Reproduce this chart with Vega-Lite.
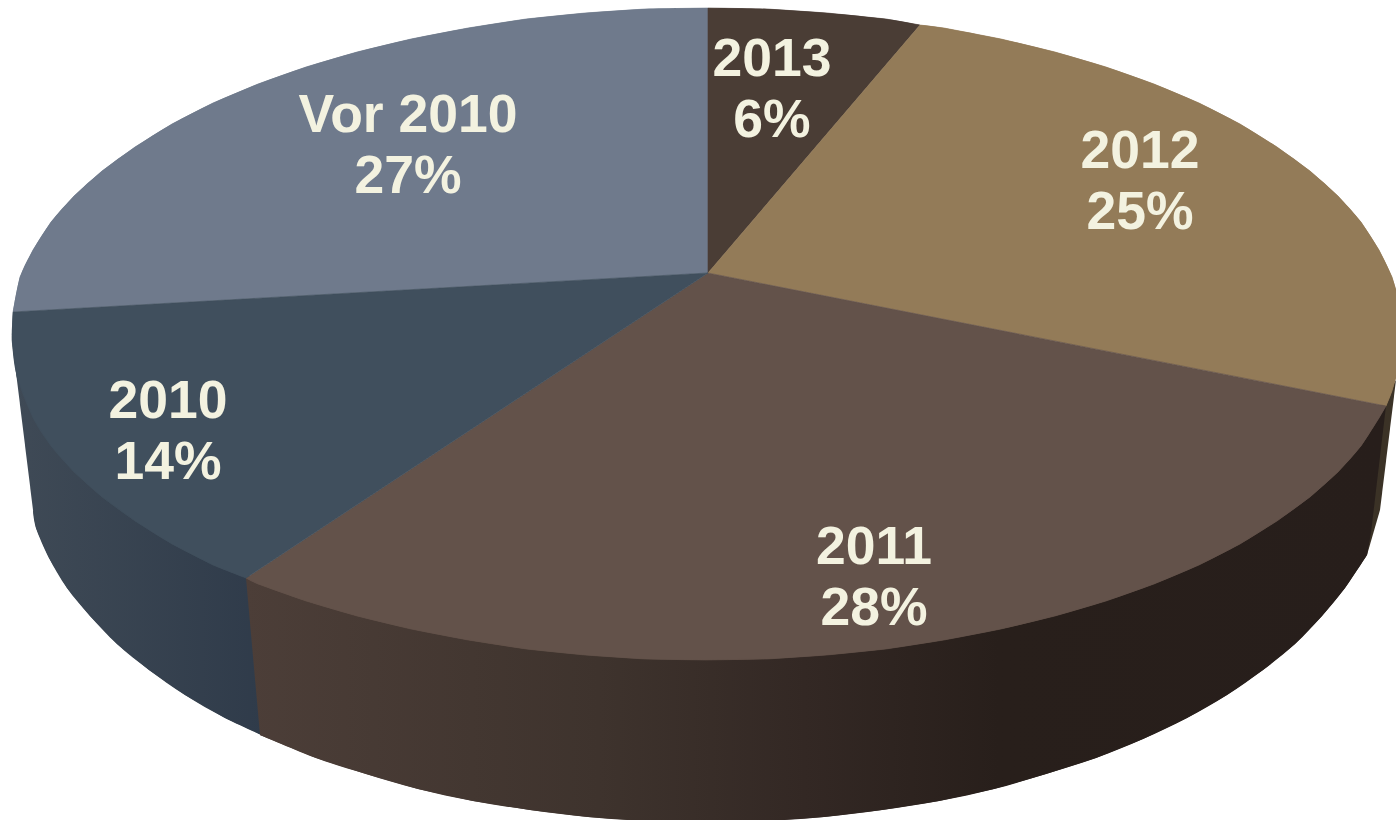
{"$schema":"https://vega.github.io/schema/vega-lite/v6.json","autosize":{"type":"fit","contains":"padding"},"width":1396,"height":820,"padding":0,"background":"white","view":{"stroke":null},
"config":{"view":{"stroke":null}},
"datasets":{"outline":[
{"slice":"2010","face":"side","n":1,"x":252,"y":578},{"slice":"2010","face":"side","n":2,"x":12,"y":340},{"slice":"2010","face":"side","n":3,"x":33,"y":510},{"slice":"2010","face":"side","n":4,"x":36,"y":528},{"slice":"2010","face":"side","n":5,"x":49,"y":558},{"slice":"2010","face":"side","n":6,"x":67,"y":588},{"slice":"2010","face":"side","n":7,"x":90,"y":616},{"slice":"2010","face":"side","n":8,"x":117,"y":644},{"slice":"2010","face":"side","n":9,"x":149,"y":670},{"slice":"2010","face":"side","n":10,"x":185,"y":695},{"slice":"2010","face":"side","n":11,"x":225,"y":718},{"slice":"2010","face":"side","n":12,"x":266,"y":737},
{"slice":"2011","face":"side","n":1,"x":1386,"y":406},{"slice":"2011","face":"side","n":2,"x":246,"y":578},{"slice":"2011","face":"side","n":3,"x":260,"y":735},{"slice":"2011","face":"side","n":4,"x":316,"y":758},{"slice":"2011","face":"side","n":5,"x":366,"y":774},{"slice":"2011","face":"side","n":6,"x":418,"y":789},{"slice":"2011","face":"side","n":7,"x":473,"y":801},{"slice":"2011","face":"side","n":8,"x":530,"y":810},{"slice":"2011","face":"side","n":9,"x":588,"y":817},{"slice":"2011","face":"side","n":10,"x":647,"y":821},{"slice":"2011","face":"side","n":11,"x":706,"y":822},{"slice":"2011","face":"side","n":12,"x":765,"y":821},{"slice":"2011","face":"side","n":13,"x":824,"y":817},{"slice":"2011","face":"side","n":14,"x":882,"y":810},{"slice":"2011","face":"side","n":15,"x":939,"y":801},{"slice":"2011","face":"side","n":16,"x":994,"y":789},{"slice":"2011","face":"side","n":17,"x":1046,"y":774},{"slice":"2011","face":"side","n":18,"x":1096,"y":758},{"slice":"2011","face":"side","n":19,"x":1143,"y":739},{"slice":"2011","face":"side","n":20,"x":1187,"y":718},{"slice":"2011","face":"side","n":21,"x":1227,"y":695},{"slice":"2011","face":"side","n":22,"x":1263,"y":670},{"slice":"2011","face":"side","n":23,"x":1295,"y":644},{"slice":"2011","face":"side","n":24,"x":1322,"y":616},{"slice":"2011","face":"side","n":25,"x":1345,"y":588},{"slice":"2011","face":"side","n":26,"x":1367,"y":555},{"slice":"2011","face":"side","n":27,"x":1371,"y":533},
{"slice":"2012","face":"side","n":1,"x":1380,"y":406},{"slice":"2012","face":"side","n":2,"x":1396,"y":380},{"slice":"2012","face":"side","n":3,"x":1380,"y":510},{"slice":"2012","face":"side","n":4,"x":1367,"y":555},{"slice":"2012","face":"side","n":5,"x":1365,"y":533},
{"slice":"Vor 2010","face":"top","n":0,"x":708,"y":273},{"slice":"Vor 2010","face":"top","n":1,"x":13,"y":312},{"slice":"Vor 2010","face":"top","n":2,"x":20,"y":277},{"slice":"Vor 2010","face":"top","n":3,"x":33,"y":250},{"slice":"Vor 2010","face":"top","n":4,"x":51,"y":222},{"slice":"Vor 2010","face":"top","n":5,"x":74,"y":196},{"slice":"Vor 2010","face":"top","n":6,"x":102,"y":171},{"slice":"Vor 2010","face":"top","n":7,"x":135,"y":147},{"slice":"Vor 2010","face":"top","n":8,"x":172,"y":124},{"slice":"Vor 2010","face":"top","n":9,"x":213,"y":103},{"slice":"Vor 2010","face":"top","n":10,"x":258,"y":84},{"slice":"Vor 2010","face":"top","n":11,"x":306,"y":67},{"slice":"Vor 2010","face":"top","n":12,"x":357,"y":52},{"slice":"Vor 2010","face":"top","n":13,"x":411,"y":39},{"slice":"Vor 2010","face":"top","n":14,"x":468,"y":28},{"slice":"Vor 2010","face":"top","n":15,"x":526,"y":19},{"slice":"Vor 2010","face":"top","n":16,"x":585,"y":13},{"slice":"Vor 2010","face":"top","n":17,"x":645,"y":9},{"slice":"Vor 2010","face":"top","n":18,"x":708,"y":8},
{"slice":"2013","face":"top","n":0,"x":708,"y":273},{"slice":"2013","face":"top","n":1,"x":708,"y":8},{"slice":"2013","face":"top","n":2,"x":767,"y":9},{"slice":"2013","face":"top","n":3,"x":827,"y":13},{"slice":"2013","face":"top","n":4,"x":886,"y":19},{"slice":"2013","face":"top","n":5,"x":920,"y":25},
{"slice":"2012","face":"top","n":0,"x":708,"y":273},{"slice":"2012","face":"top","n":1,"x":920,"y":25},{"slice":"2012","face":"top","n":2,"x":944,"y":28},{"slice":"2012","face":"top","n":3,"x":1001,"y":39},{"slice":"2012","face":"top","n":4,"x":1055,"y":52},{"slice":"2012","face":"top","n":5,"x":1106,"y":67},{"slice":"2012","face":"top","n":6,"x":1154,"y":84},{"slice":"2012","face":"top","n":7,"x":1199,"y":103},{"slice":"2012","face":"top","n":8,"x":1240,"y":124},{"slice":"2012","face":"top","n":9,"x":1277,"y":147},{"slice":"2012","face":"top","n":10,"x":1310,"y":171},{"slice":"2012","face":"top","n":11,"x":1338,"y":196},{"slice":"2012","face":"top","n":12,"x":1361,"y":222},{"slice":"2012","face":"top","n":13,"x":1379,"y":250},{"slice":"2012","face":"top","n":14,"x":1392,"y":277},{"slice":"2012","face":"top","n":15,"x":1400,"y":306},{"slice":"2012","face":"top","n":16,"x":1403,"y":334},{"slice":"2012","face":"top","n":17,"x":1400,"y":362},{"slice":"2012","face":"top","n":18,"x":1392,"y":391},{"slice":"2012","face":"top","n":19,"x":1386,"y":406},
{"slice":"2011","face":"top","n":0,"x":708,"y":273},{"slice":"2011","face":"top","n":1,"x":1386,"y":406},{"slice":"2011","face":"top","n":2,"x":1379,"y":418},{"slice":"2011","face":"top","n":3,"x":1361,"y":446},{"slice":"2011","face":"top","n":4,"x":1338,"y":472},{"slice":"2011","face":"top","n":5,"x":1310,"y":497},{"slice":"2011","face":"top","n":6,"x":1277,"y":521},{"slice":"2011","face":"top","n":7,"x":1240,"y":544},{"slice":"2011","face":"top","n":8,"x":1199,"y":565},{"slice":"2011","face":"top","n":9,"x":1154,"y":584},{"slice":"2011","face":"top","n":10,"x":1106,"y":601},{"slice":"2011","face":"top","n":11,"x":1055,"y":616},{"slice":"2011","face":"top","n":12,"x":1001,"y":629},{"slice":"2011","face":"top","n":13,"x":944,"y":640},{"slice":"2011","face":"top","n":14,"x":886,"y":649},{"slice":"2011","face":"top","n":15,"x":827,"y":655},{"slice":"2011","face":"top","n":16,"x":767,"y":659},{"slice":"2011","face":"top","n":17,"x":706,"y":660},{"slice":"2011","face":"top","n":18,"x":645,"y":659},{"slice":"2011","face":"top","n":19,"x":585,"y":655},{"slice":"2011","face":"top","n":20,"x":526,"y":649},{"slice":"2011","face":"top","n":21,"x":468,"y":640},{"slice":"2011","face":"top","n":22,"x":411,"y":629},{"slice":"2011","face":"top","n":23,"x":357,"y":616},{"slice":"2011","face":"top","n":24,"x":306,"y":601},{"slice":"2011","face":"top","n":25,"x":258,"y":584},{"slice":"2011","face":"top","n":26,"x":246,"y":578},
{"slice":"2010","face":"top","n":0,"x":708,"y":273},{"slice":"2010","face":"top","n":1,"x":246,"y":578},{"slice":"2010","face":"top","n":2,"x":213,"y":565},{"slice":"2010","face":"top","n":3,"x":172,"y":544},{"slice":"2010","face":"top","n":4,"x":135,"y":521},{"slice":"2010","face":"top","n":5,"x":102,"y":497},{"slice":"2010","face":"top","n":6,"x":74,"y":472},{"slice":"2010","face":"top","n":7,"x":51,"y":446},{"slice":"2010","face":"top","n":8,"x":33,"y":418},{"slice":"2010","face":"top","n":9,"x":17,"y":377},{"slice":"2010","face":"top","n":10,"x":12,"y":340},{"slice":"2010","face":"top","n":11,"x":13,"y":312}
],
"labels":[
{"slice":"2013","share":6,"label":"2013\n6%","x":772,"y":60},
{"slice":"2012","share":25,"label":"2012\n25%","x":1140,"y":152},
{"slice":"2011","share":28,"label":"2011\n28%","x":874,"y":548},
{"slice":"2010","share":14,"label":"2010\n14%","x":168,"y":402},
{"slice":"Vor 2010","share":27,"label":"Vor 2010\n27%","x":408,"y":116}
]},
"encoding":{"x":{"field":"x","type":"quantitative","scale":{"domain":[0,1396]},"axis":null},"y":{"field":"y","type":"quantitative","scale":{"domain":[820,0]},"axis":null}},
"layer":[
{"data":{"name":"outline"},"transform":[{"filter":"datum.face==='side' && datum.slice==='2010' && datum.n>=3"}],
"mark":{"type":"line","interpolate":"cardinal","clip":true,"strokeWidth":0,"fill":"#38434f"},
"encoding":{"order":{"field":"n"}}},
{"data":{"name":"outline"},"transform":[{"filter":"datum.face==='side' && datum.slice==='2010'"}],
"mark":{"type":"line","interpolate":"linear-closed","clip":true,"strokeWidth":0,"fill":{"gradient":"linear","x1":0,"y1":0,"x2":1,"y2":0,"stops":[{"offset":0,"color":"#3f4a56"},{"offset":1,"color":"#2f3b4a"}]}},
"encoding":{"order":{"field":"n"}}},
{"data":{"name":"outline"},"transform":[{"filter":"datum.face==='side' && datum.slice==='2012'"}],
"mark":{"type":"line","interpolate":"linear-closed","clip":true,"strokeWidth":0,"fill":"#3b3226"},
"encoding":{"order":{"field":"n"}}},
{"data":{"name":"outline"},"transform":[{"filter":"datum.face==='side' && datum.slice==='2011' && datum.n>=3 && datum.n<=26"}],
"mark":{"type":"line","interpolate":"cardinal","clip":true,"strokeWidth":0,"fill":{"gradient":"linear","x1":0,"y1":0,"x2":1,"y2":0,"stops":[{"offset":0,"color":"#4c3e38"},{"offset":0.31,"color":"#3e332d"},{"offset":0.49,"color":"#332824"},{"offset":0.66,"color":"#281f1b"},{"offset":1,"color":"#271e1b"}]}},
"encoding":{"order":{"field":"n"}}},
{"data":{"name":"outline"},"transform":[{"filter":"datum.face==='side' && datum.slice==='2011'"}],
"mark":{"type":"line","interpolate":"linear-closed","clip":true,"strokeWidth":0,"fill":{"gradient":"linear","x1":0,"y1":0,"x2":1,"y2":0,"stops":[{"offset":0,"color":"#4c3e38"},{"offset":0.31,"color":"#3e332d"},{"offset":0.49,"color":"#332824"},{"offset":0.66,"color":"#281f1b"},{"offset":1,"color":"#271e1b"}]}},
"encoding":{"order":{"field":"n"}}},
{"data":{"name":"outline"},"transform":[{"filter":"datum.face==='top' && datum.n>=1"}],
"mark":{"type":"line","interpolate":"cardinal","clip":true,"strokeWidth":0},
"encoding":{"order":{"field":"n"},
"fill":{"field":"slice","type":"nominal","scale":{"domain":["Vor 2010","2010","2011","2012","2013"],"range":["#6f7a8c","#404f5d","#63524a","#937b58","#4a3d35"]},"legend":null}}},
{"data":{"name":"outline"},"transform":[{"filter":"datum.face==='top'"}],
"mark":{"type":"line","interpolate":"linear-closed","clip":true,"strokeWidth":0.6},
"encoding":{"order":{"field":"n"},
"fill":{"field":"slice","type":"nominal","scale":{"domain":["Vor 2010","2010","2011","2012","2013"],"range":["#6f7a8c","#404f5d","#63524a","#937b58","#4a3d35"]},"legend":null},
"stroke":{"field":"slice","type":"nominal","scale":{"domain":["Vor 2010","2010","2011","2012","2013"],"range":["#6f7a8c","#404f5d","#63524a","#937b58","#4a3d35"]},"legend":null}}},
{"data":{"name":"labels"},
"mark":{"type":"text","font":"Liberation Sans","fontWeight":"bold","fontSize":53.5,"lineBreak":"\n","lineHeight":61,"align":"center","baseline":"middle","color":"#f3f2e0"},
"encoding":{"text":{"field":"label"}}}
]}
